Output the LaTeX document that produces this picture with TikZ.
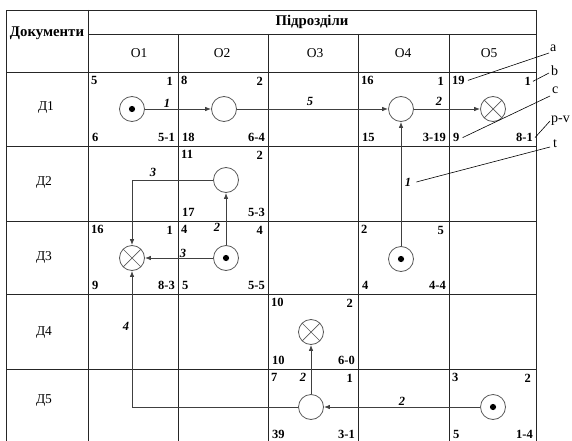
\documentclass[tikz,border=0pt]{standalone}
\usepackage{fontspec}
\setmainfont{Liberation Serif}
\usetikzlibrary{arrows.meta}

% four corner numbers of one cell: name, left, right, top, bottom, tl, tr, bl, br
\newcommand\cellnums[9]{%
  \node[num, anchor=north west] (#1-tl) at (#2+3, #4+4) {#6};
  \node[num, anchor=north east] (#1-tr) at (#3-5, #4+5) {#7};
  \node[num, anchor=south west] (#1-bl) at (#2+4, #5-4) {#8};
  \node[num, anchor=south east] (#1-br) at (#3-3, #5-4) {#9};
}

\tikzset{
  grid/.style={draw=black!85, line width=0.8pt},
  flow/.style={draw=black!75, line width=0.8pt, -{Latex[length=6pt,width=4.5pt]}},
  state/.style={circle, draw=black!65, line width=0.8pt, minimum size=25pt, inner sep=0pt, fill=white},
  startstate/.style={state, path picture={\fill[black] (path picture bounding box.center) circle (3.1pt);}},
  endstate/.style={state, path picture={\draw[black!65, line width=0.7pt]
      (path picture bounding box.north west) -- (path picture bounding box.south east)
      (path picture bounding box.north east) -- (path picture bounding box.south west);}},
  num/.style={font=\bfseries\fontsize{12.5}{12.5}\selectfont, inner sep=0pt},
  elabel/.style={font=\bfseries\itshape\fontsize{12.5}{12.5}\selectfont, inner sep=0pt},
  hdr/.style={font=\fontsize{13.5}{14}\selectfont, inner sep=0pt},
  rowhdr/.style={font=\fontsize{13.5}{14}\selectfont, inner sep=0pt},
  bhdr/.style={font=\bfseries\fontsize{14.8}{15}\selectfont, inner sep=0pt},
  side/.style={font=\fontsize{14}{14}\selectfont, inner sep=0pt},
  leader/.style={draw=black, line width=0.6pt},
}

\begin{document}
\begin{tikzpicture}[x=1pt, y=-1pt]
\useasboundingbox[fill=white] (0,0) rectangle (572,441);

% table frame and rules
\draw[grid] (6,443) -- (6,10) -- (536,10) -- (536,443);
\draw[grid] (88,34) -- (536,34);
\foreach \yy in {72,146,221,294,369} \draw[grid] (6,\yy) -- (536,\yy);
\draw[grid] (88,10) -- (88,443);
\foreach \xx in {178,268,358,449} \draw[grid] (\xx,34) -- (\xx,443);

% headings
\node[bhdr] (hdoc) at (47,33) {Документи};
\node[bhdr] (hdep) at (312,22) {Підрозділи};
\node[hdr] (c1) at (139,53) {О1};
\node[hdr] (c2) at (222,53) {О2};
\node[hdr] (c3) at (315,53) {О3};
\node[hdr] (c4) at (403,53) {О4};
\node[hdr] (c5) at (489,53) {О5};
\node[rowhdr] (r1) at (46,107) {Д1};
\node[rowhdr] (r2) at (44,182) {Д2};
\node[rowhdr] (r3) at (44,257) {Д3};
\node[rowhdr] (r4) at (44,332) {Д4};
\node[rowhdr] (r5) at (44,401) {Д5};

% corner numbers of the occupied cells
\cellnums{n11}{88}{178}{72}{146}{5}{1}{6}{5-1}
\cellnums{n12}{178}{268}{72}{146}{8}{2}{18}{6-4}
\cellnums{n14}{358}{449}{72}{146}{16}{1}{15}{3-19}
\cellnums{n15}{449}{536}{72}{146}{19}{1}{9}{8-1}
\cellnums{n22}{178}{268}{146}{221}{11}{2}{17}{5-3}
\cellnums{n31}{88}{178}{221}{294}{16}{1}{9}{8-3}
\cellnums{n32}{178}{268}{221}{294}{4}{4}{5}{5-5}
\cellnums{n34}{358}{449}{221}{294}{2}{5}{4}{4-4}
\cellnums{n43}{268}{358}{294}{369}{10}{2}{10}{6-0}
\cellnums{n53}{268}{358}{369}{443}{7}{1}{39}{3-1}
\cellnums{n55}{449}{536}{369}{443}{3}{2}{5}{1-4}

% states
\node[startstate] (o11) at (132,109) {};
\node[state]      (o12) at (224,109) {};
\node[state]      (o14) at (401,109) {};
\node[endstate]   (o15) at (493,109) {};
\node[state]      (o22) at (226,180) {};
\node[endstate]   (o31) at (132,258) {};
\node[startstate] (o32) at (226,258) {};
\node[startstate] (o34) at (401,259) {};
\node[endstate]   (o43) at (311,332) {};
\node[state]      (o53) at (311,407) {};
\node[startstate] (o55) at (493,407) {};

% transitions
\draw[flow] (o11) -- (o12);
\draw[flow] (o12) -- (o14);
\draw[flow] (o14) -- (o15);
\draw[flow] (o34) -- (o14);
\draw[flow] (o32) -- (o22);
\draw[flow] (o22) -| (o31);
\draw[flow] (o32) -- (o31);
\draw[flow] (o53) -| (o31);
\draw[flow] (o55) -- (o53);
\draw[flow] (o53) -- (o43);

% transition numbers
\node[elabel] (e1)  at (167,103) {1};
\node[elabel] (e2)  at (310,101) {5};
\node[elabel] (e3)  at (439,101) {2};
\node[elabel] (e4)  at (408,182) {1};
\node[elabel] (e5)  at (217,227) {2};
\node[elabel] (e6)  at (153,172) {3};
\node[elabel] (e7)  at (183,253) {3};
\node[elabel] (e8)  at (126,326) {4};
\node[elabel] (e9)  at (402,401) {2};
\node[elabel] (e10) at (303,377) {2};

% legend letters with leaders
\node[side, anchor=west] (la) at (550,48) {a};
\node[side, anchor=west] (lb) at (551,71) {b};
\node[side, anchor=west] (lc) at (552,90) {c};
\node[side, anchor=west] (lp) at (551,121) {p-v};
\node[side, anchor=west] (lt) at (553,144) {t};
\draw[leader] ([xshift=3pt]n15-tl.east) -- (549,53);
\draw[leader] ([xshift=2pt]n15-tr.east) -- (549,73);
\draw[leader] ([xshift=3pt]n15-bl.east) -- (550,96);
\draw[leader] ([xshift=2pt]n15-br.east) -- (550,121);
\draw[leader] ([xshift=5pt]e4.east) -- (550,147);
\end{tikzpicture}
\end{document}
